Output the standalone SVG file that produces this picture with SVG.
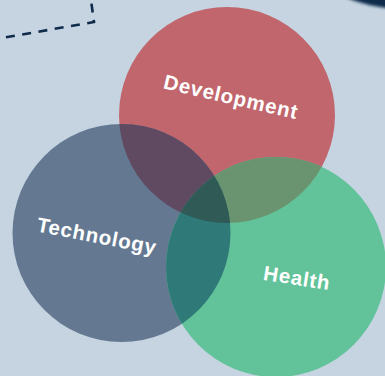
<svg xmlns="http://www.w3.org/2000/svg" width="385" height="376" viewBox="0 0 385 376">
<style>
.lbl{font-family:"Liberation Sans",Arial,sans-serif;font-weight:bold;font-size:20.5px;fill:#ffffff;text-anchor:middle;letter-spacing:0.8px}
</style>
<defs>
<circle id="cR" cx="227" cy="115" r="108"/>
<circle id="cT" cx="121.5" cy="233" r="109"/>
<circle id="cG" cx="276" cy="267" r="110"/>
<clipPath id="kR"><use href="#cR"/></clipPath>
<clipPath id="kT"><use href="#cT"/></clipPath>
<clipPath id="kG"><use href="#cG"/></clipPath>
<filter id="blur" x="-20%" y="-20%" width="140%" height="140%"><feGaussianBlur stdDeviation="1.5"/></filter>
</defs>
<rect width="385" height="376" fill="#c6d4e1"/>
<g id="decor">
<path d="M2,38 L94,22 L91,0" fill="none" stroke="#0f2b4c" stroke-width="2.6" stroke-dasharray="9 7.5" stroke-dashoffset="-4"/>
<ellipse cx="388" cy="-22" rx="70" ry="30" transform="rotate(8 388 -22)" fill="#0f2b4c" filter="url(#blur)"/>
</g>
<g id="development"><use href="#cR" fill="#c1666d"/></g>
<g id="technology"><use href="#cT" fill="#647991"/></g>
<g id="health"><use href="#cG" fill="#62c39a"/></g>
<g id="overlaps">
<g clip-path="url(#kR)"><use href="#cT" fill="#5f4a62"/></g>
<g clip-path="url(#kR)"><use href="#cG" fill="#6a9470"/></g>
<g clip-path="url(#kT)"><use href="#cG" fill="#2f7a78"/></g>
<g clip-path="url(#kR)"><g clip-path="url(#kT)"><use href="#cG" fill="#2f5a56"/></g></g>
</g>
<g id="labels">
<text class="lbl" x="231" y="104" transform="rotate(13 231 97)">Development</text>
<text class="lbl" x="97" y="243" transform="rotate(11 97 236)">Technology</text>
<text class="lbl" x="297" y="285" transform="rotate(9 297 278)">Health</text>
</g>
</svg>
